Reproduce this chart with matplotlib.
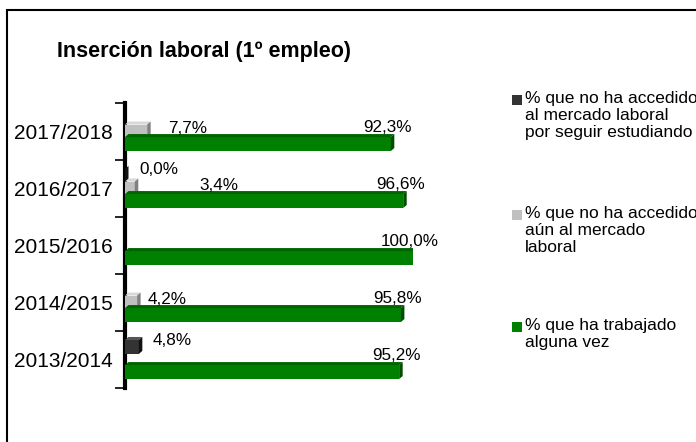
import numpy as np
import matplotlib
matplotlib.use("Agg")
import matplotlib.pyplot as plt
from matplotlib.patches import Polygon, Rectangle

plt.rcParams['font.family'] = ['Liberation Sans', 'DejaVu Sans']

# datos (de abajo hacia arriba)
cursos = ["2013/2014", "2014/2015", "2015/2016", "2016/2017", "2017/2018"]
estudiando = [4.8, np.nan, np.nan, 0.0, np.nan]
no_accedido = [np.nan, 4.2, np.nan, 3.4, 7.7]
trabajado = [95.2, 95.8, 100.0, 96.6, 92.3]

nombres = ["% que no ha accedido\nal mercado laboral\npor seguir estudiando",
           "% que no ha accedido\naún al mercado\nlaboral",
           "% que ha trabajado\nalguna vez"]
colores = ["#333333", "#C0C0C0", "#008000"]
lados = ["#111111", "#808080", "#004C00"]
techos = ["#555555", "#D8D8D8", "#006400"]

W, H = 696, 442
fig = plt.figure(figsize=(W / 100, H / 100), dpi=100)
ax = fig.add_axes([125 / W, (H - 388) / H, 288 / W, 285 / H])
ax.set_xlim(0, 100)
ax.set_ylim(0, 5)

h = 0.245
offs = [0.22, 0.0, -0.22]
# profundidad 3D en unidades de datos
dx = 3.5 / 2.88
dy = 3.0 / 57


def barra(y, v, k):
    ax.barh(y, v, height=h, color=colores[k], edgecolor="none", zorder=3 + k)
    top = y + h / 2
    bot = y - h / 2
    ax.add_patch(Polygon([(0, top), (dx, top + dy), (v + dx, top + dy), (v, top)],
                         closed=True, fc=techos[k], ec="none", zorder=3 + k))
    ax.add_patch(Polygon([(v, bot), (v, top), (v + dx, top + dy), (v + dx, bot + dy)],
                         closed=True, fc=lados[k], ec="none", zorder=3 + k))


series = [estudiando, no_accedido, trabajado]
gray_dx = [16, 11, 0, 65, 21]

for i, curso in enumerate(cursos):
    yc = i + 0.5
    for k, s in enumerate(series):
        v = s[i]
        if np.isnan(v):
            continue
        y = yc + offs[k]
        barra(y, v, k)
        txt = ("%.1f%%" % v).replace(".", ",")
        if k == 2:
            ax.annotate(txt, (v, y + h / 2), xytext=(-3, 2), textcoords="offset pixels",
                        ha="center", va="bottom", fontsize=12.3, zorder=10)
        elif k == 1:
            ax.annotate(txt, (v, y), xytext=(gray_dx[i], 3), textcoords="offset pixels",
                        ha="left", va="center", fontsize=12.3, zorder=10)
        else:
            ax.annotate(txt, (v, y), xytext=(14, 6), textcoords="offset pixels",
                        ha="left", va="center", fontsize=12.3, zorder=10)

ax.set_yticks(np.arange(0, 6))
ax.set_yticklabels([])
ax.set_yticks(np.arange(5) + 0.5, minor=True)
ax.set_yticklabels(cursos, minor=True, fontsize=15)
ax.tick_params(axis="y", which="minor", length=0, pad=8.5)
ax.tick_params(axis="y", which="major", length=7, width=1.2, direction="out")
ax.set_xticks([])
for side in ["top", "right", "bottom"]:
    ax.spines[side].set_visible(False)
ax.spines["left"].set_linewidth(3)
ax.patch.set_alpha(0)

fig.text(57 / W, 1 - 57 / H, "Inserción laboral (1º empleo)", fontsize=15.5,
         fontweight="bold", ha="left", va="baseline")

# leyenda
ley_y = [100, 215, 327]
for k in range(3):
    yy = ley_y[k]
    fig.patches.append(Rectangle((512 / W, 1 - (yy + 5) / H), 10 / W, 10 / H,
                                 transform=fig.transFigure, fc=colores[k], ec="none"))
    fig.text(525 / W, 1 - (yy - 9) / H, nombres[k], fontsize=12.5, ha="left",
             va="top", linespacing=1.17)

# marco
fig.patches.append(Rectangle((7 / W, -0.1), 2, 1 - 10 / H + 0.1,
                             transform=fig.transFigure, fill=False, ec="black", lw=1.5))

fig.savefig("out.png", dpi=100)
